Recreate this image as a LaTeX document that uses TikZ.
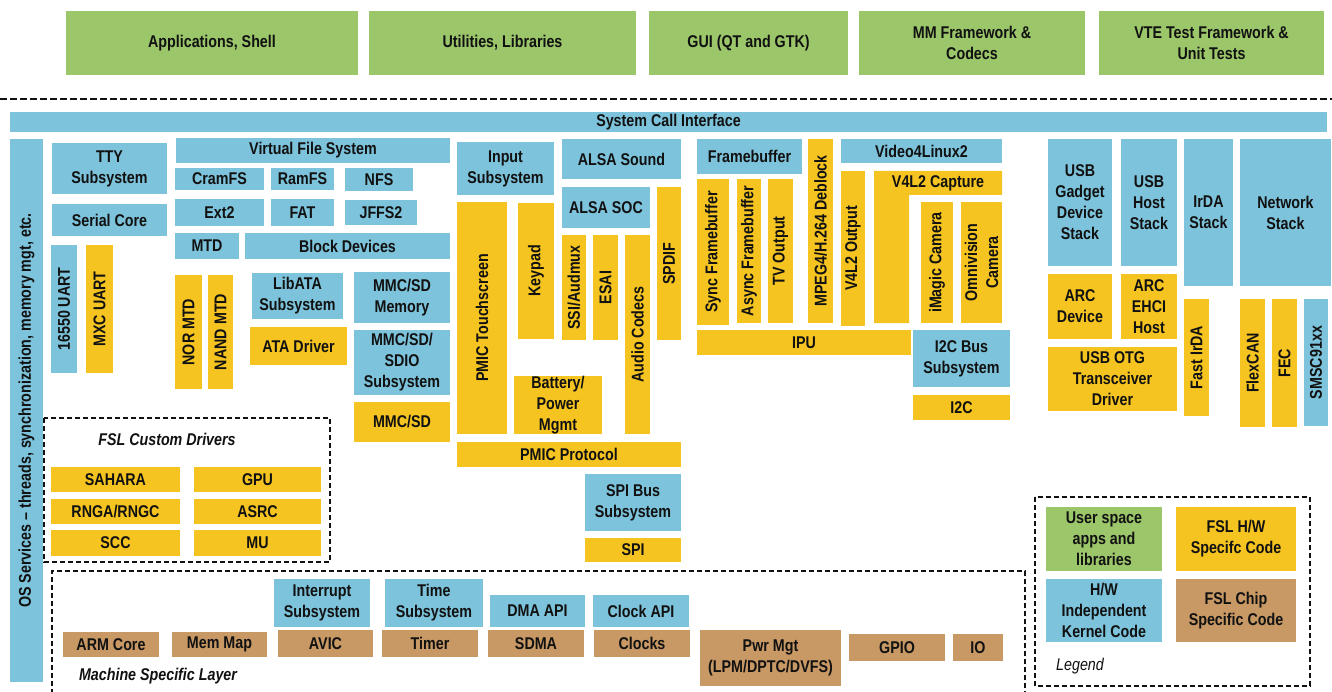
\documentclass[tikz,border=0pt]{standalone}
\usepackage{fontspec}
\setmainfont{Liberation Sans}[FakeStretch=0.84]
\definecolor{cg}{HTML}{9CC66A}
\definecolor{cb}{HTML}{7DC3DB}
\definecolor{cy}{HTML}{F5C421}
\definecolor{cr}{HTML}{C89865}
\definecolor{ink}{HTML}{111111}
\tikzset{
  lbl/.style={font=\fontsize{17}{21}\selectfont\bfseries, align=center, inner sep=0pt, text=ink},
  sepline/.style={draw=ink, line width=2.2pt, dash pattern=on 7pt off 3pt},
  grp/.style={draw=ink, line width=2pt, dash pattern=on 5pt off 3pt},
  grplabel/.style={font=\fontsize{17}{19}\selectfont\bfseries\itshape, inner sep=0pt, text=ink},
  leglabel/.style={font=\fontsize{17}{19}\selectfont\itshape, inner sep=0pt, text=ink},
}
\newcommand\bx[7]{\node[lbl, fill=#2, minimum width={(#5-#3)*1pt}, minimum height={(#6-#4)*1pt}] (#1) at ({(#3+#5)/2},{(#4+#6)/2}) {#7};}
\newcommand\bxr[7]{\node[lbl, fill=#2, rotate=90, minimum width={(#6-#4)*1pt}, minimum height={(#5-#3)*1pt}] (#1) at ({(#3+#5)/2},{(#4+#6)/2}) {#7};}
\begin{document}
\begin{tikzpicture}[x=1pt,y=-1pt]
\useasboundingbox (0,0) rectangle (1332,692);
\fill[white] (0,0) rectangle (1332,692);
% user space
\bx{app}{cg}{66}{11}{358}{75}{Applications, Shell}
\bx{util}{cg}{369}{11}{636}{75}{Utilities, Libraries}
\bx{gui}{cg}{649}{11}{848}{75}{GUI (QT and GTK)}
\bx{mm}{cg}{859}{11}{1085}{75}{MM Framework \&\\Codecs}
\bx{vte}{cg}{1099}{11}{1324}{75}{VTE Test Framework \&\\Unit Tests}
\coordinate (sl) at (0,99);
\coordinate (sr) at (1332,99);
\draw[sepline] (sl) -- (sr);
% kernel
\bx{sci}{cb}{10}{112}{1327}{132}{System Call Interface}
\bxr{os}{cb}{10}{139}{43}{682}{OS Services -- threads, synchronization, memory mgt, etc.}
% tty
\bx{tty}{cb}{52}{143}{167}{194}{TTY\\Subsystem}
\bx{serial}{cb}{52}{204}{167}{236}{Serial Core}
\bxr{u16550}{cb}{51}{245}{77}{373}{16550 UART}
\bxr{mxcuart}{cy}{86}{245}{113}{373}{MXC UART}
% fs
\bx{vfs}{cb}{176}{138}{450}{163}{Virtual File System}
\bx{cramfs}{cb}{175}{168}{264}{190}{CramFS}
\bx{ramfs}{cb}{271}{168}{334}{190}{RamFS}
\bx{nfs}{cb}{345}{168}{413}{191}{NFS}
\bx{ext2}{cb}{175}{199}{264}{226}{Ext2}
\bx{fat}{cb}{271}{199}{334}{226}{FAT}
\bx{jffs}{cb}{345}{200}{417}{225}{JFFS2}
\bx{mtd}{cb}{175}{233}{239}{259}{MTD}
\bx{blk}{cb}{245}{233}{450}{259}{Block Devices}
\bxr{normtd}{cy}{175}{275}{202}{389}{NOR MTD}
\bxr{nandmtd}{cy}{208}{275}{233}{389}{NAND MTD}
\bx{libata}{cb}{252}{273}{343}{319}{LibATA\\Subsystem}
\bx{atadrv}{cy}{250}{327}{347}{365}{ATA Driver}
\bx{mmcmem}{cb}{354}{272}{450}{323}{MMC/SD\\Memory}
\bx{mmcsub}{cb}{354}{330}{450}{395}{MMC/SD/\\SDIO\\Subsystem}
\bx{mmcsd}{cy}{354}{402}{450}{442}{MMC/SD}
% input / sound
\bx{input}{cb}{457}{142}{554}{195}{Input\\Subsystem}
\bx{alsa}{cb}{562}{139}{681}{179}{ALSA Sound}
\bx{alsasoc}{cb}{562}{187}{650}{228}{ALSA SOC}
\bxr{pmicts}{cy}{457}{202}{507}{434}{PMIC Touchscreen}
\bxr{keypad}{cy}{518}{203}{554}{339}{Keypad}
\bxr{ssi}{cy}{562}{235}{586}{340}{SSI/Audmux}
\bxr{esai}{cy}{593}{235}{618}{340}{ESAI}
\bxr{codecs}{cy}{625}{235}{650}{434}{Audio Codecs}
\bxr{spdif}{cy}{657}{187}{681}{340}{SPDIF}
\bx{batt}{cy}{514}{378}{602}{432}{Battery/\\Power\\Mgmt}
\bx{pmicp}{cy}{457}{442}{681}{467}{PMIC Protocol}
\bx{spibus}{cb}{585}{474}{681}{531}{SPI Bus\\Subsystem}
\bx{spi}{cy}{585}{538}{681}{562}{SPI}
% video
\bx{fb}{cb}{697}{139}{802}{174}{Framebuffer}
\bxr{syncfb}{cy}{697}{179}{729}{325}{Sync Framebuffer}
\bxr{asyncfb}{cy}{737}{179}{761}{323}{Async Framebuffer}
\bxr{tvout}{cy}{768}{179}{793}{323}{TV Output}
\bxr{mpeg}{cy}{808}{139}{833}{323}{MPEG4/H.264 Deblock}
\bx{v4l}{cb}{841}{139}{1002}{163}{Video4Linux2}
\bxr{v4lout}{cy}{841}{171}{865}{326}{V4L2 Output}
\fill[cy] (874,171) -- (1002,171) -- (1002,195) -- (909,195) -- (909,323) -- (874,323) -- cycle;
\node[lbl] (v4lcap) at (938,183) {V4L2 Capture};
\bxr{imagic}{cy}{921}{202}{953}{323}{iMagic Camera}
\bxr{omni}{cy}{961}{202}{1002}{323}{Omnivision\\Camera}
\bx{ipu}{cy}{697}{330}{911}{355}{IPU}
\bx{i2cbus}{cb}{913}{330}{1010}{387}{I2C Bus\\Subsystem}
\bx{i2c}{cy}{913}{395}{1010}{420}{I2C}
% usb / network
\bx{usbg}{cb}{1048}{139}{1112}{266}{USB\\Gadget\\Device\\Stack}
\bx{usbh}{cb}{1121}{139}{1177}{266}{USB\\Host\\Stack}
\bx{irda}{cb}{1184}{139}{1233}{286}{IrDA\\Stack}
\bx{net}{cb}{1240}{139}{1331}{286}{Network\\Stack}
\bx{arcdev}{cy}{1048}{274}{1112}{339}{ARC\\Device}
\bx{arcehci}{cy}{1121}{274}{1177}{339}{ARC\\EHCI\\Host}
\bx{otg}{cy}{1048}{347}{1177}{411}{USB OTG\\Transceiver\\Driver}
\bxr{fastirda}{cy}{1184}{299}{1209}{416}{Fast IrDA}
\bxr{flexcan}{cy}{1240}{299}{1265}{427}{FlexCAN}
\bxr{fec}{cy}{1272}{299}{1297}{427}{FEC}
\bxr{smsc}{cb}{1304}{299}{1328}{426}{SMSC91xx}
% FSL custom drivers
\draw[grp] (44,418) rectangle (330,562);
\node[grplabel] (fsllbl) at (167,439) {FSL Custom Drivers};
\bx{sahara}{cy}{51}{467}{180}{492}{SAHARA}
\bx{gpu}{cy}{194}{467}{321}{492}{GPU}
\bx{rnga}{cy}{51}{499}{180}{524}{RNGA/RNGC}
\bx{asrc}{cy}{194}{499}{321}{524}{ASRC}
\bx{scc}{cy}{51}{530}{180}{556}{SCC}
\bx{mu}{cy}{194}{530}{321}{556}{MU}
% machine specific layer
\draw[grp] (52,694) -- (52,571) -- (1025,571) -- (1025,694);
\node[grplabel] (msllbl) at (158,676) {Machine Specific Layer};
\bx{intsub}{cb}{274}{579}{370}{627}{Interrupt\\Subsystem}
\bx{timesub}{cb}{385}{579}{483}{627}{Time\\Subsystem}
\bx{dmaapi}{cb}{490}{595}{585}{627}{DMA API}
\bx{clkapi}{cb}{593}{595}{689}{627}{Clock API}
\bx{armcore}{cr}{63}{632}{159}{657}{ARM Core}
\bx{memmap}{cr}{172}{632}{267}{657}{Mem Map}
\bx{avic}{cr}{278}{630}{373}{657}{AVIC}
\bx{timer}{cr}{382}{630}{478}{657}{Timer}
\bx{sdma}{cr}{488}{630}{584}{657}{SDMA}
\bx{clocks}{cr}{594}{630}{690}{657}{Clocks}
\bx{pwr}{cr}{700}{630}{841}{686}{Pwr Mgt\\(LPM/DPTC/DVFS)}
\bx{gpio}{cr}{849}{634}{945}{661}{GPIO}
\bx{io}{cr}{953}{634}{1003}{661}{IO}
% legend
\draw[grp] (1035,497) rectangle (1310,686);
\bx{lgu}{cg}{1046}{507}{1162}{571}{User space\\apps and\\libraries}
\bx{lgy}{cy}{1176}{507}{1296}{571}{FSL H/W\\Specifc Code}
\bx{lgb}{cb}{1046}{579}{1162}{642}{H/W\\Independent\\Kernel Code}
\bx{lgr}{cr}{1176}{579}{1296}{642}{FSL Chip\\Specific Code}
\node[leglabel] (leglbl) at (1080,666) {Legend};
\end{tikzpicture}
\end{document}
